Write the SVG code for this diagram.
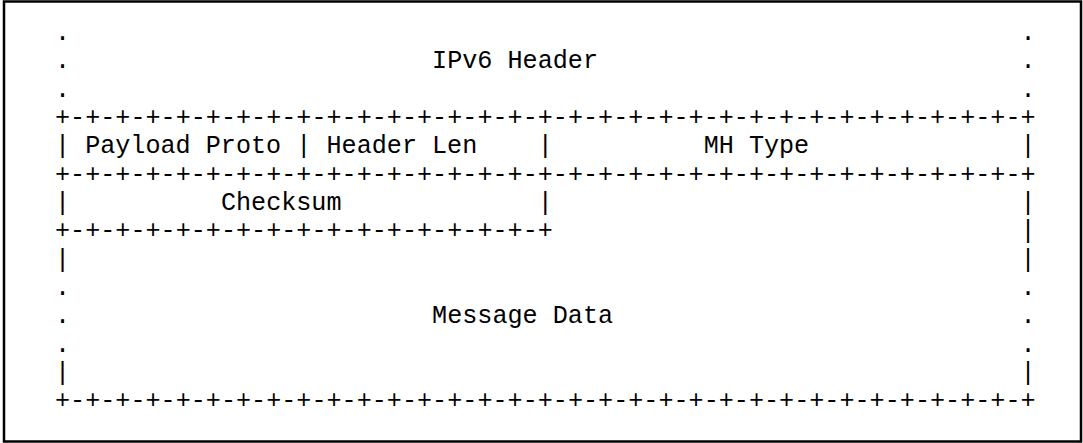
<svg xmlns="http://www.w3.org/2000/svg" width="1083" height="443" viewBox="0 0 1083 443">
  <style>
    text { font-family: "Liberation Mono", "Courier New", monospace; font-size: 25.14px; fill: #000; }
  </style>
  <rect x="0" y="0" width="1083" height="443" fill="#fff"/>
  <!-- outer frame -->
  <rect x="4" y="1.5" width="1077" height="440" fill="none" stroke="#000" stroke-width="2.5"/>

  <!-- ASCII grid: rules, bars and continuation dots (column pitch 15.086px) -->
  <g id="connectors">
    <!-- continuation dots above the table -->
    <text x="54.96" y="39.9">.</text><text x="1020.46" y="39.9">.</text>
    <text x="54.96" y="68.25">.</text><text x="1020.46" y="68.25">.</text>
    <text x="54.96" y="96.6">.</text><text x="1020.46" y="96.6">.</text>
    <!-- top rule -->
    <text x="54.96" y="124.95" textLength="980.6" lengthAdjust="spacing">+-+-+-+-+-+-+-+-+-+-+-+-+-+-+-+-+-+-+-+-+-+-+-+-+-+-+-+-+-+-+-+-+</text>
    <!-- field separators, first word -->
    <text x="54.96" y="153.3">|</text>
    <text x="296.34" y="153.3">|</text>
    <text x="537.71" y="153.3">|</text>
    <text x="1020.46" y="153.3">|</text>
    <!-- rule -->
    <text x="54.96" y="181.65" textLength="980.6" lengthAdjust="spacing">+-+-+-+-+-+-+-+-+-+-+-+-+-+-+-+-+-+-+-+-+-+-+-+-+-+-+-+-+-+-+-+-+</text>
    <!-- checksum row separators -->
    <text x="54.96" y="210">|</text>
    <text x="537.71" y="210">|</text>
    <text x="1020.46" y="210">|</text>
    <!-- half-width rule under checksum -->
    <text x="54.96" y="238.35" textLength="497.84" lengthAdjust="spacing">+-+-+-+-+-+-+-+-+-+-+-+-+-+-+-+-+</text>
    <text x="1020.46" y="238.35">|</text>
    <!-- message data body -->
    <text x="54.96" y="266.7">|</text><text x="1020.46" y="266.7">|</text>
    <text x="54.96" y="295.05">.</text><text x="1020.46" y="295.05">.</text>
    <text x="54.96" y="323.4">.</text><text x="1020.46" y="323.4">.</text>
    <text x="54.96" y="351.75">.</text><text x="1020.46" y="351.75">.</text>
    <text x="54.96" y="380.1">|</text><text x="1020.46" y="380.1">|</text>
    <!-- bottom rule -->
    <text x="54.96" y="408.45" textLength="980.6" lengthAdjust="spacing">+-+-+-+-+-+-+-+-+-+-+-+-+-+-+-+-+-+-+-+-+-+-+-+-+-+-+-+-+-+-+-+-+</text>
  </g>

  <g id="ipv6-header">
    <text x="432.11" y="68.25">IPv6 Header</text>
  </g>
  <g id="payload-proto">
    <text x="85.13" y="153.3">Payload Proto</text>
  </g>
  <g id="header-len">
    <text x="326.51" y="153.3">Header Len</text>
  </g>
  <g id="mh-type">
    <text x="703.66" y="153.3">MH Type</text>
  </g>
  <g id="checksum">
    <text x="220.91" y="210">Checksum</text>
  </g>
  <g id="message-data">
    <text x="432.11" y="323.4">Message Data</text>
  </g>
</svg>
